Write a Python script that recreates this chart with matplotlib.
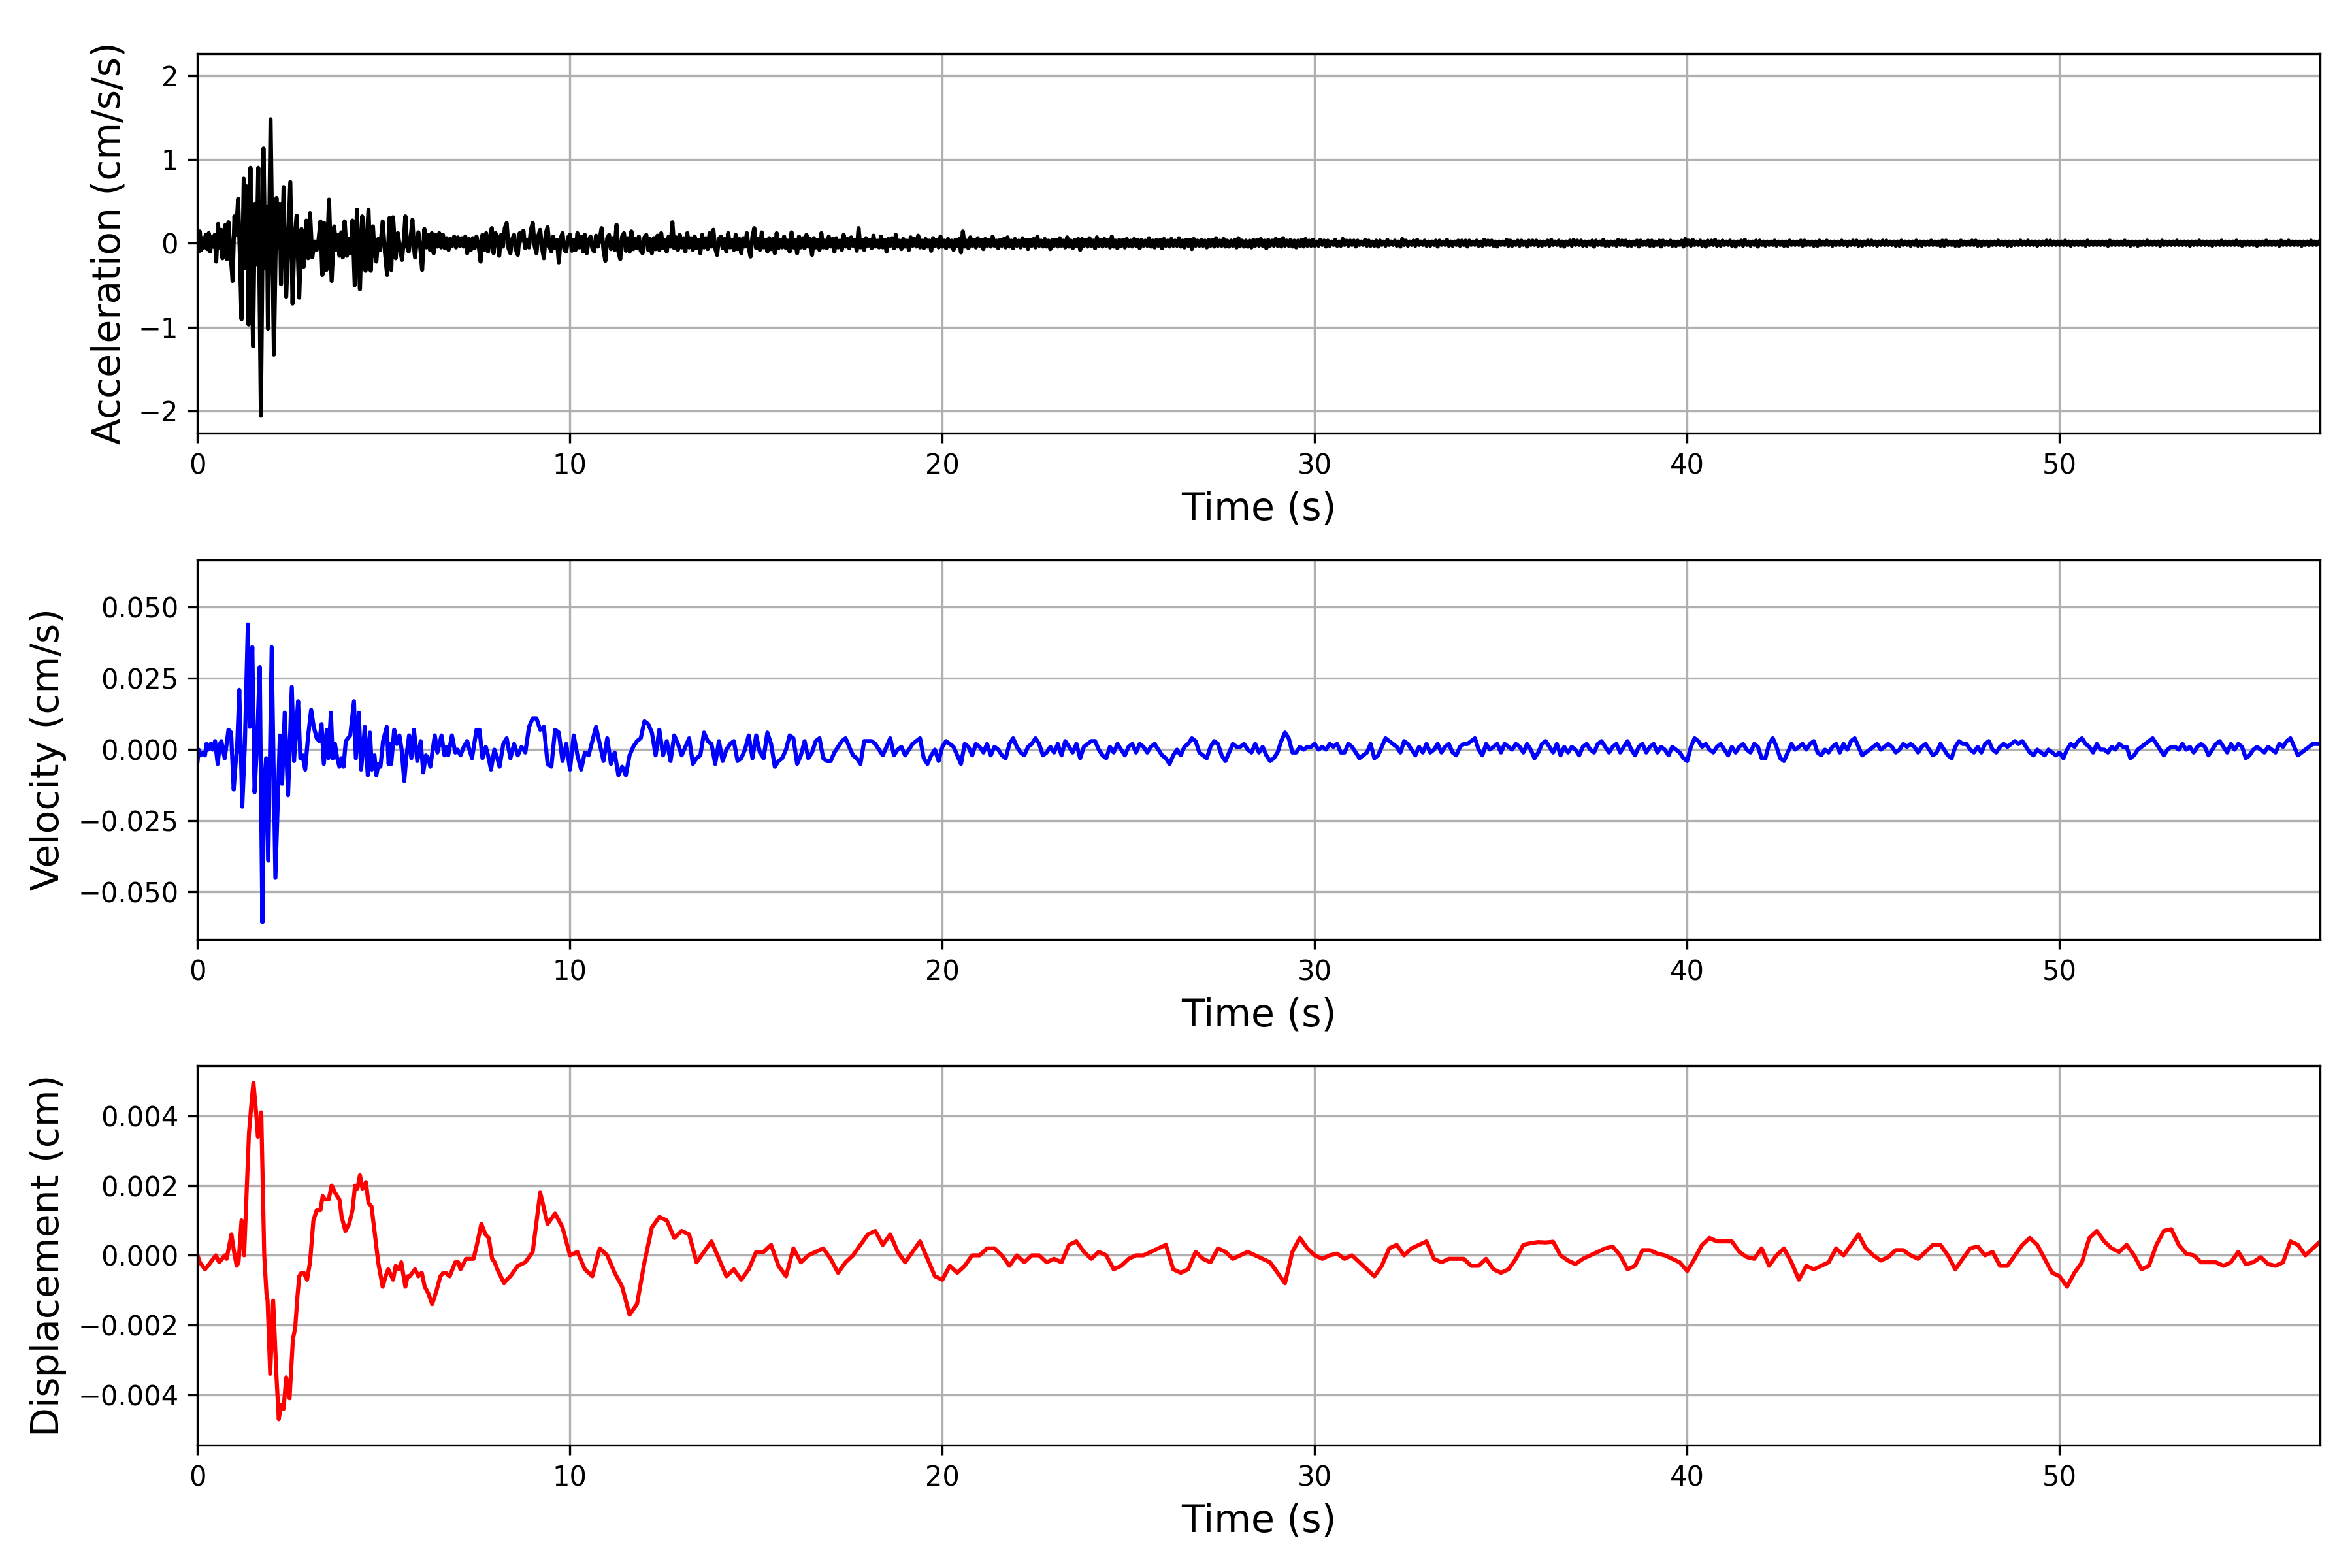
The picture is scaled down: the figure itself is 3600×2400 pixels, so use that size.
import numpy as np
import matplotlib
matplotlib.use("Agg")
import matplotlib.pyplot as plt

# ---------------- data ----------------
T_END = 57.0

# Acceleration (cm/s/s): strong-motion extrema (time s, value)
acc_strong = [
    (0.00, 0.05), (0.03, -0.10), (0.06, 0.14), (0.10, -0.08), (0.14, 0.06), (0.18, -0.05),
    (0.22, 0.10), (0.26, -0.07), (0.30, 0.12), (0.34, -0.10), (0.38, 0.08), (0.42, -0.04),
    (0.46, 0.10), (0.50, -0.22), (0.55, 0.23), (0.59, -0.06), (0.63, 0.16), (0.67, -0.18),
    (0.71, 0.14), (0.75, 0.22), (0.79, -0.19), (0.83, 0.25), (0.88, -0.08), (0.94, -0.45),
    (0.99, 0.32), (1.03, 0.10), (1.09, 0.53), (1.14, -0.20), (1.18, -0.91), (1.24, 0.77),
    (1.28, -0.30), (1.31, 0.68), (1.37, -0.97), (1.42, 0.90), (1.45, -0.20), (1.49, -1.23),
    (1.54, 0.47), (1.58, -0.25), (1.63, 0.90), (1.70, -2.06), (1.77, 1.13), (1.82, -0.30),
    (1.86, 0.43), (1.89, -1.02), (1.96, 1.48), (2.05, -1.33), (2.12, 0.54), (2.17, -0.05),
    (2.21, 0.47), (2.24, -0.49), (2.31, 0.67), (2.38, -0.64), (2.44, 0.10), (2.49, 0.73),
    (2.55, -0.72), (2.60, 0.05), (2.66, 0.33), (2.73, -0.65), (2.79, 0.17), (2.85, -0.28),
    (2.92, 0.27), (2.97, -0.18), (3.02, 0.36), (3.08, -0.17), (3.14, 0.02), (3.20, -0.08),
    (3.25, 0.05), (3.30, 0.26), (3.35, -0.38), (3.40, 0.24), (3.46, -0.32), (3.53, 0.52),
    (3.60, -0.45), (3.67, 0.20), (3.72, -0.08), (3.77, 0.10), (3.81, -0.15), (3.86, 0.13),
    (3.90, -0.17), (3.95, 0.26), (4.01, -0.15), (4.06, 0.05), (4.11, -0.12), (4.16, 0.27),
    (4.22, -0.50), (4.28, 0.40), (4.32, -0.10), (4.36, -0.55), (4.42, 0.32), (4.47, 0.05),
    (4.51, -0.33), (4.55, 0.10), (4.59, 0.40), (4.65, -0.33), (4.71, 0.20), (4.75, -0.10),
    (4.80, -0.22), (4.85, 0.05), (4.90, -0.08), (4.97, 0.26), (5.03, -0.10), (5.09, -0.38),
    (5.15, 0.30), (5.20, -0.32), (5.25, 0.31), (5.32, -0.18), (5.38, 0.12), (5.43, -0.05),
    (5.49, -0.20), (5.54, 0.05), (5.58, 0.32), (5.63, -0.05), (5.67, -0.10), (5.72, 0.06),
    (5.77, 0.28), (5.81, -0.05), (5.84, -0.17), (5.89, 0.05), (5.93, 0.13), (5.98, -0.05),
    (6.03, -0.32), (6.09, 0.17), (6.14, -0.05), (6.19, 0.10), (6.24, -0.08), (6.29, 0.12),
    (6.34, -0.12), (6.39, 0.10), (6.44, -0.04), (6.49, 0.12), (6.54, -0.05), (6.59, 0.10),
    (6.64, -0.06), (6.69, 0.06), (6.74, -0.08), (6.79, 0.05), (6.84, -0.03), (6.89, 0.08),
    (6.94, -0.05), (6.99, 0.07), (7.04, -0.03), (7.09, 0.06), (7.14, -0.04), (7.19, 0.08),
    (7.24, -0.12), (7.29, 0.05), (7.34, -0.08), (7.39, 0.06), (7.44, -0.06), (7.49, 0.08),
    (7.55, -0.04), (7.60, -0.22), (7.65, 0.10), (7.70, -0.08), (7.75, 0.12), (7.80, -0.10),
    (7.85, 0.05), (7.90, 0.18), (7.95, -0.12), (8.00, 0.12),
]
# Acceleration coda, samples every 0.05 s from 8.05 s (one line per second)
ACC_TAIL_START, ACC_TAIL_STEP = 8.05, 0.05
acc_tail = [
    0.08, -0.15, 0.10, -0.04, 0.18, 0.24, -0.06, -0.12, 0.05, 0.10, -0.08, -0.14, 0.12, 0.03, 0.15, -0.06, 0.04, -0.05, 0.16, 0.24,
    -0.03, -0.12, 0.09, 0.16, -0.06, -0.18, 0.12, 0.19, -0.04, -0.10, 0.08, -0.06, 0.04, -0.23, 0.06, 0.12, -0.08, -0.10, 0.07, 0.10,
    -0.09, 0.04, -0.08, 0.12, -0.05, 0.08, -0.10, 0.10, -0.12, 0.03, 0.08, -0.06, -0.10, 0.09, -0.04, 0.06, 0.18, -0.08, -0.21, 0.06,
    0.10, -0.07, 0.06, -0.08, 0.22, -0.10, -0.19, 0.08, 0.12, -0.09, 0.06, -0.10, 0.14, -0.07, 0.05, -0.06, 0.08, -0.09, -0.12, 0.07,
    0.10, -0.08, 0.05, -0.12, 0.06, -0.07, 0.09, -0.08, 0.12, -0.06, 0.04, -0.10, 0.08, -0.04, 0.25, -0.06, 0.07, -0.08, 0.10, -0.05,
    0.06, -0.10, 0.12, -0.05, 0.06, -0.08, 0.08, -0.06, 0.04, -0.12, 0.10, -0.05, 0.06, -0.07, 0.12, -0.04, 0.16, -0.06, -0.14, 0.05,
    0.08, -0.06, 0.05, -0.10, 0.12, -0.05, 0.04, -0.08, 0.10, -0.07, 0.05, -0.12, 0.06, -0.04, 0.12, -0.06, -0.16, 0.08, 0.18, -0.06,
    0.05, -0.08, 0.13, -0.05, 0.04, -0.10, 0.06, -0.07, 0.05, -0.12, 0.12, -0.06, 0.04, -0.05, 0.08, -0.06, 0.03, -0.10, 0.13, -0.05,
    0.04, -0.12, 0.08, -0.05, 0.06, -0.06, 0.10, -0.04, 0.05, -0.14, 0.06, -0.05, 0.04, -0.08, 0.12, -0.05, 0.03, -0.06, 0.08, -0.04,
    0.05, -0.10, 0.06, -0.05, 0.03, -0.08, 0.10, -0.04, 0.05, -0.06, 0.07, -0.03, 0.04, -0.09, 0.18, -0.05, 0.04, -0.08, 0.06, -0.03,
    0.04, -0.06, 0.09, -0.04, 0.03, -0.05, 0.08, -0.05, 0.04, -0.10, 0.05, -0.03, 0.06, -0.06, 0.10, -0.04, 0.03, -0.07, 0.05, -0.04,
    0.03, -0.08, 0.07, -0.03, 0.05, -0.04, 0.09, -0.05, 0.03, -0.06, 0.05, -0.04, 0.03, -0.09, 0.06, -0.03, 0.04, -0.05, 0.08, -0.04,
    0.03, -0.06, 0.05, -0.04, 0.03, -0.08, 0.04, -0.03, 0.05, -0.11, 0.14, -0.04, 0.03, -0.06, 0.07, -0.03, 0.04, -0.05, 0.06, -0.03,
    0.04, -0.07, 0.05, -0.03, 0.04, -0.04, 0.08, -0.03, 0.03, -0.06, 0.04, -0.03, 0.05, -0.05, 0.07, -0.04, 0.03, -0.06, 0.05, -0.03,
    0.03, -0.05, 0.06, -0.03, 0.04, -0.07, 0.04, -0.03, 0.05, -0.05, 0.08, -0.03, 0.03, -0.04, 0.05, -0.04, 0.03, -0.07, 0.04, -0.03,
    0.04, -0.04, 0.06, -0.03, 0.03, -0.05, 0.07, -0.04, 0.03, -0.06, 0.04, -0.03, 0.05, -0.08, 0.05, -0.03, 0.04, -0.04, 0.06, -0.03,
    0.03, -0.06, 0.07, -0.03, 0.04, -0.04, 0.05, -0.03, 0.04, -0.05, 0.08, -0.04, 0.03, -0.06, 0.04, -0.03, 0.04, -0.05, 0.05, -0.03,
    0.03, -0.04, 0.05, -0.03, 0.04, -0.06, 0.04, -0.03, 0.03, -0.03, 0.06, -0.04, 0.03, -0.05, 0.04, -0.03, 0.04, -0.06, 0.05, -0.03,
    0.03, -0.04, 0.05, -0.03, 0.03, -0.03, 0.06, -0.04, 0.03, -0.05, 0.04, -0.03, 0.04, -0.07, 0.05, -0.03, 0.03, -0.03, 0.04, -0.03,
    0.03, -0.05, 0.04, -0.03, 0.04, -0.04, 0.06, -0.03, 0.03, -0.03, 0.05, -0.04, 0.03, -0.04, 0.03, -0.03, 0.04, -0.05, 0.06, -0.03,
    0.03, -0.04, 0.03, -0.04, 0.03, -0.05, 0.04, -0.03, 0.04, -0.03, 0.05, -0.03, 0.03, -0.06, 0.04, -0.03, 0.03, -0.03, 0.05, -0.03,
    0.04, -0.04, 0.06, -0.03, 0.03, -0.03, 0.04, -0.04, 0.03, -0.05, 0.03, -0.03, 0.04, -0.04, 0.05, -0.03, 0.03, -0.03, 0.04, -0.03,
    0.02, -0.03, 0.04, -0.02, 0.03, -0.04, 0.03, -0.03, 0.02, -0.02, 0.04, -0.03, 0.02, -0.03, 0.05, -0.02, 0.03, -0.03, 0.03, -0.02,
    0.03, -0.04, 0.03, -0.02, 0.02, -0.02, 0.04, -0.03, 0.03, -0.03, 0.02, -0.03, 0.03, -0.04, 0.03, -0.02, 0.02, -0.03, 0.04, -0.02,
    0.02, -0.02, 0.03, -0.03, 0.02, -0.04, 0.05, -0.02, 0.03, -0.03, 0.02, -0.02, 0.03, -0.03, 0.04, -0.02, 0.02, -0.02, 0.03, -0.03,
    0.02, -0.03, 0.02, -0.02, 0.03, -0.04, 0.03, -0.02, 0.02, -0.02, 0.04, -0.03, 0.02, -0.03, 0.02, -0.02, 0.03, -0.03, 0.03, -0.02,
    0.03, -0.04, 0.03, -0.02, 0.02, -0.02, 0.03, -0.03, 0.02, -0.03, 0.04, -0.02, 0.03, -0.02, 0.03, -0.03, 0.02, -0.04, 0.02, -0.02,
    0.02, -0.02, 0.04, -0.03, 0.03, -0.03, 0.02, -0.02, 0.03, -0.03, 0.03, -0.02, 0.02, -0.04, 0.03, -0.02, 0.03, -0.02, 0.03, -0.03,
    0.02, -0.03, 0.02, -0.02, 0.03, -0.03, 0.04, -0.02, 0.02, -0.02, 0.03, -0.03, 0.02, -0.04, 0.02, -0.02, 0.03, -0.03, 0.04, -0.02,
    0.03, -0.02, 0.03, -0.03, 0.02, -0.03, 0.02, -0.02, 0.03, -0.04, 0.03, -0.02, 0.02, -0.02, 0.04, -0.03, 0.02, -0.03, 0.02, -0.02,
    0.02, -0.03, 0.04, -0.02, 0.03, -0.02, 0.03, -0.03, 0.02, -0.03, 0.02, -0.02, 0.03, -0.04, 0.03, -0.02, 0.02, -0.02, 0.03, -0.03,
    0.03, -0.03, 0.02, -0.02, 0.03, -0.04, 0.03, -0.02, 0.02, -0.02, 0.03, -0.03, 0.02, -0.03, 0.02, -0.02, 0.03, -0.04, 0.05, -0.02,
    0.03, -0.03, 0.04, -0.02, 0.02, -0.02, 0.03, -0.03, 0.02, -0.04, 0.03, -0.02, 0.03, -0.02, 0.04, -0.03, 0.02, -0.03, 0.03, -0.02,
    0.02, -0.02, 0.03, -0.03, 0.02, -0.04, 0.02, -0.02, 0.03, -0.03, 0.04, -0.02, 0.02, -0.03, 0.02, -0.02, 0.03, -0.04, 0.03, -0.02,
    0.02, -0.03, 0.02, -0.02, 0.02, -0.02, 0.03, -0.03, 0.02, -0.02, 0.02, -0.03, 0.02, -0.03, 0.03, -0.02, 0.02, -0.02, 0.02, -0.02,
    0.03, -0.03, 0.03, -0.02, 0.02, -0.02, 0.02, -0.03, 0.02, -0.03, 0.03, -0.02, 0.02, -0.02, 0.03, -0.02, 0.02, -0.03, 0.02, -0.02,
    0.02, -0.02, 0.03, -0.02, 0.02, -0.03, 0.02, -0.02, 0.03, -0.02, 0.03, -0.03, 0.02, -0.03, 0.02, -0.02, 0.03, -0.02, 0.03, -0.02,
    0.02, -0.03, 0.02, -0.02, 0.03, -0.02, 0.03, -0.02, 0.02, -0.02, 0.02, -0.03, 0.02, -0.03, 0.03, -0.02, 0.02, -0.02, 0.02, -0.03,
    0.02, -0.02, 0.03, -0.03, 0.02, -0.03, 0.02, -0.02, 0.02, -0.02, 0.03, -0.02, 0.02, -0.02, 0.02, -0.03, 0.03, -0.03, 0.03, -0.02,
    0.02, -0.02, 0.02, -0.03, 0.02, -0.03, 0.03, -0.02, 0.02, -0.02, 0.02, -0.02, 0.03, -0.02, 0.03, -0.03, 0.02, -0.03, 0.02, -0.02,
    0.02, -0.03, 0.02, -0.02, 0.02, -0.02, 0.03, -0.02, 0.02, -0.02, 0.02, -0.03, 0.02, -0.03, 0.02, -0.02, 0.02, -0.02, 0.03, -0.02,
    0.02, -0.02, 0.03, -0.02, 0.02, -0.02, 0.02, -0.03, 0.02, -0.02, 0.02, -0.02, 0.03, -0.02, 0.03, -0.02, 0.02, -0.02, 0.02, -0.02,
    0.02, -0.02, 0.03, -0.02, 0.02, -0.03, 0.02, -0.02, 0.02, -0.02, 0.02, -0.02, 0.02, -0.03, 0.03, -0.02, 0.02, -0.02, 0.02, -0.02,
    0.02, -0.02, 0.02, -0.02, 0.02, -0.03, 0.03, -0.02, 0.02, -0.02, 0.02, -0.02, 0.02, -0.02, 0.03, -0.02, 0.02, -0.03, 0.02, -0.02,
    0.02, -0.03, 0.02, -0.02, 0.02, -0.02, 0.03, -0.02, 0.02, -0.02, 0.02, -0.02, 0.02, -0.03, 0.03, -0.02, 0.02, -0.02, 0.02, -0.02,
    0.02, -0.02, 0.03, -0.02, 0.02, -0.02, 0.02, -0.02, 0.02, -0.03, 0.02, -0.02, 0.02, -0.02, 0.03, -0.02, 0.02, -0.02, 0.02, -0.02,
    0.02, -0.03, 0.02, -0.02, 0.02, -0.02, 0.03, -0.02, 0.02, -0.02, 0.02, -0.02, 0.02, -0.02, 0.03, -0.02, 0.02, -0.03, 0.02, -0.02,
    0.02, -0.02, 0.02, -0.02, 0.02, -0.03, 0.02, -0.02, 0.02, -0.02, 0.03, -0.02, 0.02, -0.02, 0.02, -0.02, 0.02, -0.03, 0.03, -0.02,
    0.02, -0.02, 0.03, -0.02, 0.02, -0.02, 0.02, -0.02, 0.02, -0.03, 0.02, -0.02, 0.02, -0.02, 0.03, -0.02, 0.02, -0.02, 0.02, -0.02,
]

# Velocity (cm/s): strong-motion extrema (time s, value)
vel_strong = [
    (0.00, -0.004), (0.03, 0.000), (0.08, -0.002), (0.14, -0.001), (0.20, -0.002), (0.24, 0.002),
    (0.28, 0.000), (0.35, 0.002), (0.40, 0.000), (0.47, 0.003), (0.54, -0.005), (0.60, 0.002),
    (0.64, 0.003), (0.68, 0.000), (0.73, -0.003), (0.78, 0.002), (0.83, 0.007), (0.90, 0.006),
    (0.97, -0.014), (1.02, -0.005), (1.06, 0.000), (1.12, 0.021), (1.20, -0.020), (1.27, 0.002),
    (1.35, 0.044), (1.40, 0.008), (1.47, 0.036), (1.53, -0.015), (1.59, 0.000), (1.67, 0.029),
    (1.74, -0.0606), (1.79, -0.012), (1.84, -0.003), (1.90, -0.039), (1.99, 0.036), (2.09, -0.045),
    (2.21, 0.005), (2.27, -0.012), (2.34, 0.013), (2.43, -0.016), (2.53, 0.022), (2.59, -0.004),
    (2.66, 0.010), (2.70, 0.017), (2.76, -0.003), (2.82, -0.002), (2.89, -0.007), (2.97, 0.005),
    (3.05, 0.014), (3.12, 0.008), (3.20, 0.004), (3.27, 0.003), (3.33, 0.009), (3.39, -0.005),
    (3.47, 0.007), (3.51, -0.003), (3.58, 0.013), (3.63, -0.003), (3.69, 0.002), (3.75, -0.003),
    (3.81, -0.006), (3.86, -0.003), (3.92, -0.006), (3.98, 0.003), (4.04, 0.004), (4.10, 0.005),
    (4.20, 0.017), (4.25, -0.003), (4.33, 0.013), (4.39, -0.007), (4.43, -0.002), (4.49, 0.008),
    (4.57, -0.009), (4.63, 0.006), (4.68, -0.007), (4.75, -0.002), (4.80, -0.009), (4.86, -0.005),
    (4.91, -0.006), (4.98, 0.003), (5.08, 0.008), (5.13, -0.005), (5.17, 0.002), (5.20, -0.005),
    (5.28, 0.007), (5.35, 0.002), (5.42, 0.005), (5.48, 0.000), (5.55, -0.011), (5.61, -0.002),
    (5.68, 0.005), (5.74, -0.003), (5.81, 0.007), (5.90, -0.004), (5.99, 0.003), (6.06, -0.008),
    (6.13, -0.002), (6.20, -0.003), (6.25, -0.006), (6.37, 0.005), (6.44, -0.001), (6.55, 0.005),
    (6.63, -0.002), (6.68, 0.001), (6.73, -0.002), (6.83, 0.005), (6.92, -0.001), (6.98, 0.000),
    (7.06, -0.002), (7.15, 0.001), (7.24, 0.003), (7.30, 0.000), (7.37, -0.003), (7.49, 0.007),
    (7.53, 0.005), (7.57, 0.007), (7.65, -0.003), (7.74, 0.001), (7.80, -0.002), (7.88, -0.007),
    (7.97, 0.000), (8.05, -0.003), (8.11, -0.006), (8.21, 0.002),
]
# Velocity coda, samples every 0.1 s from 8.3 s
VEL_TAIL_START, VEL_TAIL_STEP = 8.3, 0.1
vel_tail = [
    0.004, -0.003, 0.002, -0.002, 0.001, -0.001, 0.008, 0.011,
    0.011, 0.007, 0.008, -0.005, -0.006, 0.007, 0.006, -0.004, 0.002, -0.007,
    0.005, -0.002, -0.007, -0.001, -0.002, 0.003, 0.008, 0.002, -0.004, 0.004,
    -0.005, -0.001, -0.009, -0.006, -0.009, -0.002, 0.001, 0.003, 0.004, 0.010,
    0.009, 0.006, -0.002, 0.007, -0.002, 0.003, -0.004, 0.005, 0.002, -0.002,
    0.001, 0.004, -0.005, -0.003, -0.002, 0.006, 0.003, 0.002, -0.005, 0.003,
    -0.004, 0.000, 0.002, 0.003, -0.004, -0.003, 0.000, 0.005, -0.003, 0.005,
    -0.001, -0.003, 0.006, 0.002, -0.006, -0.004, -0.003, 0.000, 0.005, 0.004,
    -0.005, -0.002, 0.003, -0.003, -0.001, 0.003, 0.004, -0.003, -0.004, -0.004,
    -0.001, 0.001, 0.003, 0.004, 0.001, -0.002, -0.003, -0.005, 0.003, 0.003,
    0.003, 0.002, 0.000, -0.002, 0.001, 0.004, -0.002, 0.000, 0.001, -0.002,
    0.000, 0.002, 0.003, 0.004, -0.003, -0.005, -0.002, 0.000, -0.004, 0.001,
    0.003, 0.002, 0.001, -0.002, -0.005, 0.002, 0.001, -0.002, 0.002, 0.001,
    -0.001, 0.002, -0.002, 0.001, 0.000, -0.002, -0.003, 0.002, 0.004, 0.001,
    -0.001, -0.002, 0.001, 0.002, 0.004, 0.002, -0.002, -0.001, 0.001, -0.001,
    0.002, -0.002, 0.003, 0.001, -0.001, 0.002, -0.003, 0.001, 0.002, 0.003,
    0.003, 0.000, -0.002, -0.003, 0.001, -0.001, 0.002, 0.000, -0.002, 0.001,
    0.002, -0.001, 0.002, 0.001, -0.001, 0.001, 0.002, 0.000, -0.002, -0.003,
    -0.005, -0.002, 0.000, -0.002, 0.001, 0.002, 0.004, 0.003, -0.001, -0.002,
    -0.003, 0.001, 0.003, 0.002, -0.002, -0.004, -0.001, 0.002, 0.001, 0.001,
    0.002, 0.000, -0.001, 0.002, -0.001, 0.001, -0.002, -0.004, -0.003, -0.001,
    0.003, 0.006, 0.004, -0.001, -0.001, 0.001, 0.000, 0.001, 0.001, 0.002,
    0.000, 0.001, 0.000, 0.002, 0.001, 0.002, -0.001, -0.001, 0.002, 0.001,
    -0.001, -0.003, -0.002, -0.001, 0.002, -0.003, -0.002, 0.001, 0.004, 0.003,
    0.002, 0.001, -0.001, 0.003, 0.002, 0.000, -0.002, 0.001, -0.001, 0.002,
    -0.001, 0.000, 0.002, -0.001, 0.001, 0.002, -0.001, -0.002, 0.001, 0.002,
    0.002, 0.003, 0.004, 0.000, -0.002, 0.002, 0.000, 0.001, 0.002, -0.001,
    0.002, 0.001, 0.000, 0.002, 0.001, -0.001, 0.002, 0.000, -0.003, -0.001,
    0.002, 0.003, 0.001, -0.001, 0.002, -0.002, 0.001, -0.001, 0.001, 0.000,
    -0.002, 0.001, 0.002, 0.000, -0.001, 0.002, 0.003, 0.001, -0.001, 0.001,
    0.002, -0.001, 0.001, 0.003, 0.000, -0.002, 0.001, 0.002, -0.001, 0.001,
    0.002, -0.001, 0.001, 0.000, -0.002, 0.001, 0.000, -0.001, -0.003, -0.004,
    0.001, 0.004, 0.003, 0.001, 0.002, 0.000, -0.001, 0.001, 0.002, 0.000,
    -0.002, 0.001, -0.001, 0.001, 0.002, 0.000, -0.001, 0.002, 0.001, -0.003,
    -0.003, 0.002, 0.004, 0.001, -0.003, -0.004, -0.001, 0.002, 0.000, 0.001,
    0.002, 0.000, 0.002, 0.003, -0.001, -0.002, 0.000, -0.001, 0.001, 0.002,
    -0.001, 0.002, 0.000, 0.003, 0.004, 0.001, -0.002, -0.001, 0.000, 0.001,
    0.002, 0.000, 0.001, 0.002, 0.001, -0.001, 0.000, 0.002, 0.001, 0.002,
    0.001, -0.001, 0.001, 0.002, 0.000, -0.002, -0.001, 0.002, 0.000, -0.002,
    -0.003, 0.001, 0.003, 0.002, 0.002, 0.000, -0.001, 0.001, -0.001, 0.002,
    0.003, 0.000, -0.001, 0.001, 0.002, 0.001, 0.002, 0.003, 0.002, 0.003,
    0.001, -0.001, -0.002, 0.000, -0.001, -0.002, 0.000, -0.001, -0.002, -0.001,
    -0.003, 0.000, 0.002, 0.001, 0.003, 0.004, 0.002, 0.001, -0.001, 0.002,
    0.000, 0.000, -0.001, 0.001, 0.000, 0.002, 0.001, 0.001, -0.003, -0.002,
    0.000, 0.001, 0.002, 0.003, 0.004, 0.002, 0.000, -0.002, 0.000, 0.001,
    0.001, 0.000, 0.002, 0.000, 0.001, -0.001, 0.001, 0.002, 0.001, -0.002,
    0.000, 0.002, 0.003, 0.001, -0.001, 0.002, 0.000, 0.002, 0.001, -0.003,
    -0.002, 0.000, 0.001, 0.000, -0.001, 0.001, 0.000, -0.001, 0.002, 0.001,
    0.003, 0.004, 0.001, -0.002, -0.001, 0.000, 0.001, 0.002, 0.002, 0.002,
]

# Displacement (cm): strong-motion points (time s, value)
disp_strong = [
    (0.00, 0.0000), (0.06, -0.0002), (0.20, -0.0004), (0.28, -0.0003), (0.35, -0.0002),
    (0.42, -0.0001), (0.49, 0.0000), (0.58, -0.0002), (0.66, -0.0001), (0.73, 0.0000),
    (0.78, -0.0001), (0.91, 0.0006), (0.98, 0.0001), (1.05, -0.0003), (1.10, -0.0002),
    (1.18, 0.0010), (1.25, 0.0000), (1.32, 0.0019), (1.38, 0.0035), (1.45, 0.0044),
    (1.50, 0.00495), (1.58, 0.0040), (1.62, 0.0034), (1.66, 0.0036), (1.71, 0.0041),
    (1.79, 0.0000), (1.85, -0.0011), (1.88, -0.0013), (1.95, -0.0034), (2.03, -0.0013),
    (2.12, -0.0035), (2.18, -0.0047), (2.24, -0.0043), (2.31, -0.0044), (2.38, -0.0035),
    (2.47, -0.0041), (2.56, -0.0024), (2.62, -0.0021), (2.68, -0.0012), (2.73, -0.0006),
    (2.79, -0.0005), (2.85, -0.0005), (2.94, -0.0007), (3.02, -0.0002), (3.11, 0.0010),
    (3.20, 0.0013), (3.30, 0.0013), (3.36, 0.0017), (3.43, 0.0016), (3.52, 0.0016),
    (3.60, 0.0020), (3.69, 0.0018), (3.81, 0.0016), (3.87, 0.0011), (3.97, 0.0007),
    (4.07, 0.0009), (4.16, 0.0013), (4.23, 0.0020), (4.29, 0.0019), (4.36, 0.0023),
    (4.43, 0.0019), (4.52, 0.0021), (4.59, 0.0015), (4.67, 0.0014), (4.74, 0.0008),
    (4.85, -0.0002), (4.97, -0.0009), (5.05, -0.0006), (5.12, -0.0004), (5.25, -0.0007),
    (5.32, -0.0003), (5.40, -0.0004), (5.47, -0.0002), (5.58, -0.0009), (5.64, -0.0006),
    (5.70, -0.0006), (5.84, -0.0004), (5.93, -0.0006), (6.02, -0.0005), (6.10, -0.0009),
    (6.20, -0.0011), (6.30, -0.0014), (6.42, -0.0010), (6.52, -0.0006), (6.60, -0.0005),
    (6.66, -0.0005), (6.77, -0.0006), (6.92, -0.0002), (7.00, -0.0002), (7.06, -0.0004),
    (7.21, -0.0001), (7.33, -0.0001), (7.41, -0.0001), (7.50, 0.0003), (7.62, 0.0009),
    (7.73, 0.0006), (7.82, 0.0005), (7.91, -0.0001), (7.98, -0.0002), (8.05, -0.0004),
    (8.14, -0.0006), (8.23, -0.0008), (8.30, -0.0007),
]
# Displacement coda, samples every 0.2 s from 8.4 s
DISP_TAIL_START, DISP_TAIL_STEP = 8.4, 0.2
disp_tail = [
    -0.0006, -0.0003, -0.0002, 0.0001, 0.0018, 0.0009, 0.0012, 0.0008, 0.0000, 0.0001,
    -0.0004, -0.0006, 0.0002, 0.0000, -0.0005, -0.0009, -0.0017, -0.0014, -0.0002, 0.0008,
    0.0011, 0.0010, 0.0005, 0.0007, 0.0006, -0.0002, 0.0001, 0.0004, -0.0001, -0.0006,
    -0.0004, -0.0007, -0.0004, 0.0001, 0.0001, 0.0003, -0.0003, -0.0006, 0.0002, -0.0002,
    0.0000, 0.0001, 0.0002, -0.0001, -0.0005, -0.0002, 0.0000, 0.0003, 0.0006, 0.0007,
    0.0003, 0.0006, 0.0001, -0.0002, 0.0001, 0.0004, -0.0001, -0.0006, -0.0007, -0.0003,
    -0.0005, -0.0003, 0.0000, 0.0000, 0.0002, 0.0002, 0.0000, -0.0003, 0.0000, -0.0002,
    0.0000, 0.0000, -0.0002, -0.0001, -0.0002, 0.0003, 0.0004, 0.0001, -0.0001, 0.0001,
    0.0000, -0.0004, -0.0003, -0.0001, 0.0000, 0.0000, 0.0001, 0.0002, 0.0003, -0.0004,
    -0.0005, -0.0004, 0.0001, -0.0001, -0.0002, 0.0002, 0.0001, -0.0001, 0.0000, 0.0001,
    0.0000, -0.0001, -0.0002, -0.0005, -0.0008, 0.0001, 0.0005, 0.0002, 0.0000,
    -0.0001, 0.0000, 0.00005, -0.0001, 0.0000, -0.0002, -0.0004, -0.0006, -0.0003, 0.0002,
    0.0003, 0.0000, 0.0002, 0.0003, 0.0004, -0.0001, -0.0002, -0.0001, -0.0001, -0.0001,
    -0.0003, -0.0003, -0.0001, -0.0004, -0.0005, -0.0004, -0.0001, 0.0003,
    0.00035, 0.00038, 0.00037, 0.00039, 0.0000, -0.00015, -0.00025, -0.0001, 0.0000, 0.0001,
    0.0002, 0.00025, 0.0000, -0.0004, -0.0003, 0.00015, 0.00015, 0.00005, 0.0000, -0.0001,
    -0.0002, -0.00045, -0.0001, 0.0003, 0.0005, 0.0004, 0.0004, 0.0004, 0.0001, -0.00005,
    -0.0001, 0.0002, -0.0003, 0.0000, 0.0002, -0.0002, -0.0007, -0.0003, -0.0004, -0.0003,
    -0.0002, 0.0002, 0.0000, 0.0003, 0.0006, 0.0002, 0.0000, -0.00015, -0.00005, 0.00015,
    0.00015, 0.0000, -0.0001, 0.0001, 0.0003, 0.0003, 0.0000, -0.0004, -0.0001, 0.0002,
    0.00025, 0.0000, 0.0001, -0.0003, -0.0003, 0.0000, 0.0003, 0.0005, 0.0003, -0.0001,
    -0.0005, -0.0006, -0.0009, -0.0005, -0.0002, 0.0005, 0.0007, 0.0004, 0.0002, 0.0001,
    0.0003, 0.0000, -0.0004, -0.0003, 0.0003, 0.0007, 0.00075, 0.0003, 0.00005, 0.0000,
    -0.0002, -0.0002, -0.0002, -0.0003, -0.0002, 0.0001, -0.00025, -0.0002, -0.00005, -0.00025,
    -0.0003, -0.0002, 0.0004, 0.0003, 0.0000, 0.0002, 0.0004,
]

# axis texts and ticks
X_LABEL = "Time (s)"
Y_LABELS = ["Acceleration (cm/s/s)", "Velocity (cm/s)", "Displacement (cm)"]
ACC_YTICKS = [-2, -1, 0, 1, 2]
VEL_YTICKS = [-0.050, -0.025, 0.000, 0.025, 0.050]
DISP_YTICKS = [-0.004, -0.002, 0.000, 0.002, 0.004]
X_TICKS = [0, 10, 20, 30, 40, 50]


def build(strong, tail, start, step):
    t0 = np.array([p[0] for p in strong])
    v0 = np.array([p[1] for p in strong])
    t1 = start + step * np.arange(len(tail))
    return np.concatenate([t0, t1]), np.concatenate([v0, np.array(tail)])


acc_t, acc = build(acc_strong, acc_tail, ACC_TAIL_START, ACC_TAIL_STEP)
vel_t, vel = build(vel_strong, vel_tail, VEL_TAIL_START, VEL_TAIL_STEP)
disp_t, disp = build(disp_strong, disp_tail, DISP_TAIL_START, DISP_TAIL_STEP)

# ---------------- figure ----------------
fig = plt.figure(figsize=(12, 8), dpi=300)
left, width, height = 0.084, 0.9025, 0.2422
bottoms = [0.7238, 0.4008, 0.0783]

series = [
    (acc_t, acc, "k", ACC_YTICKS),
    (vel_t, vel, "b", VEL_YTICKS),
    (disp_t, disp, "r", DISP_YTICKS),
]

for (t, y, c, yt), b, lab in zip(series, bottoms, Y_LABELS):
    ax = fig.add_axes([left, b, width, height])
    ax.plot(t, y, color=c, linewidth=1.5)
    m = np.max(np.abs(y))
    ax.set_ylim(-1.1 * m, 1.1 * m)
    ax.set_xlim(0, T_END)
    ax.set_xticks(X_TICKS)
    ax.set_yticks(yt)
    ax.grid(True, color="#b0b0b0", linewidth=0.8)
    ax.set_axisbelow(True)
    ax.set_xlabel(X_LABEL, fontsize=14)
    ax.set_ylabel(lab, fontsize=14)
    ax.tick_params(labelsize=10)

fig.savefig("out.png", dpi=300)
